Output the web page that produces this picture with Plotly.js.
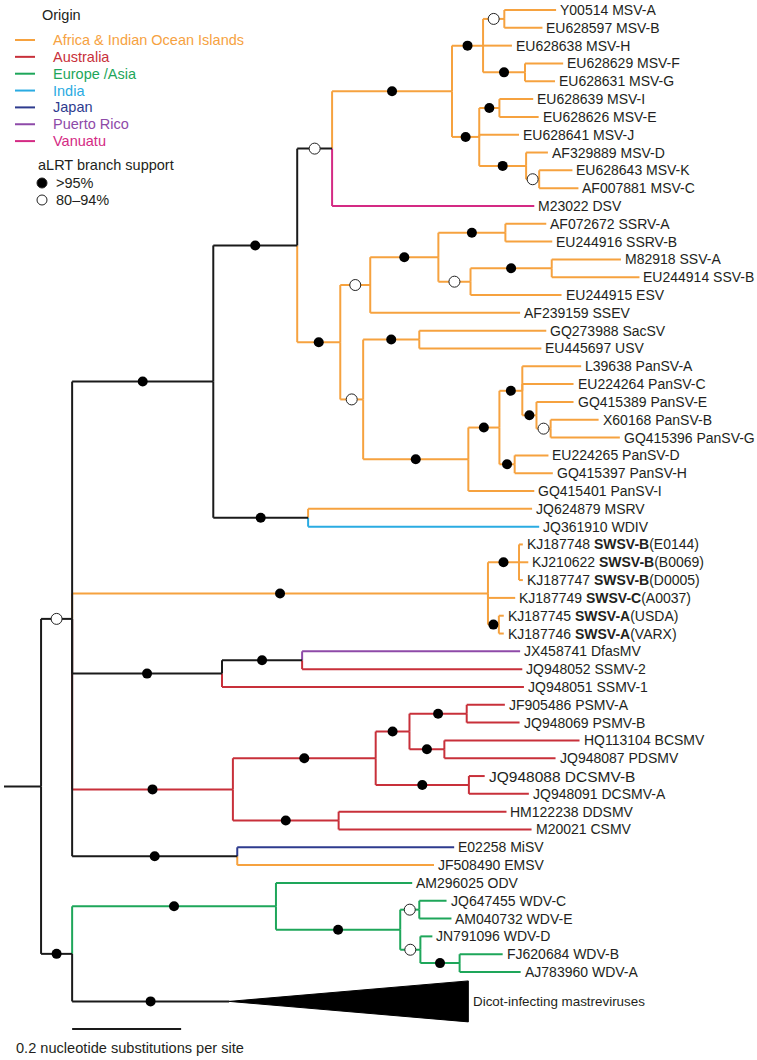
<!DOCTYPE html>
<html><head><meta charset="utf-8">
<script src="https://cdn.plot.ly/plotly-3.0.1.min.js"></script>
<style>html,body{margin:0;padding:0;background:#fff}#chart{width:757px;height:1060px}</style>
</head><body><div id="chart"></div>
<script>
// ---------------- DATA ----------------
const originCodes = ['AF','AU','EA','IN','JP','PR','VA'];
const originNames = ['Africa & Indian Ocean Islands','Australia','Europe /Asia','India','Japan','Puerto Rico','Vanuatu'];
const supportCodes = ['H','M'];
const supportNames = ['>95%','80\u201394%'];
const supportTitle = 'aLRT branch support';
const originTitle = 'Origin';

// tree nodes in pre-order (children listed top to bottom)
const nodeIds = [
  'root','n1','n2','n3','n4','n5','n6','n7','L1','L2','L3','n8','L4','L5',
  'n9','n10','L6','L7','L8','n11','L9','n12','L10','L11','L12',
  'n13','n14','n15','n16','L13','L14','n17','n18','L15','L16','L17','L18',
  'n19','n20','L19','L20','n21','n22','n23','L21','L22','n24','L23','n25','L24','L25','n26','L26','L27','L28',
  'n27','L29','L30','n28','n29','L31','L32','L33','L34','n30','L35','L36',
  'n31','n32','L37','L38','L39','n33','n34','n35','n36','L40','L41','n37','L42','L43','n38','L44','L45','n39','L46','L47',
  'n40','L48','L49','n41','n42','L50','n43','n44','L51','L52','n45','L53','n46','L54','L55','D'
];
const nodeParents = [
  null,'root','n1','n2','n3','n4','n5','n6','n7','n7','n6','n6','n8','n8',
  'n5','n9','n10','n10','n9','n9','n11','n11','n12','n12','n4',
  'n3','n13','n14','n15','n16','n16','n15','n17','n18','n18','n17','n14',
  'n13','n19','n20','n20','n19','n21','n22','n23','n23','n23','n24','n24','n25','n25','n22','n26','n26','n21',
  'n2','n27','n27','n1','n28','n29','n29','n29','n28','n28','n30','n30',
  'n1','n31','n32','n32','n31','n1','n33','n34','n35','n36','n36','n35','n37','n37','n34','n38','n38','n33','n39','n39',
  'n1','n40','n40','root','n41','n42','n42','n43','n44','n44','n43','n45','n45','n46','n46','n41'
];
// branch lengths (nucleotide substitutions per site)
const branchLengths = [
  0.068,0.057,0.259,0.154,0.064,0.220,0.057,0.039,0.095,0.070,0.053,0.077,0.070,0.055,
  0.050,0.037,0.062,0.072,0.073,0.086,0.040,0.024,0.061,0.072,0.371,
  0.079,0.055,0.125,0.123,0.075,0.086,0.059,0.149,0.127,0.161,0.167,0.275,
  0.042,0.103,0.233,0.224,0.193,0.057,0.042,0.108,0.094,0.026,0.068,0.026,0.088,0.127,0.028,0.062,0.070,0.121,
  0.174,0.411,0.424,0.763,0.057,0.007,0.017,0.007,0.050,0.020,0.009,0.009,
  0.275,0.147,0.400,0.404,0.554,0.295,0.262,0.062,0.105,0.070,0.097,0.064,0.248,0.204,0.171,0.029,0.110,0.194,0.308,0.354,
  0.303,0.398,0.361,0.057,0.374,0.250,0.228,0.035,0.050,0.059,0.037,0.022,0.072,0.079,0.112,0.288
];
// origin of each branch ('' = unassigned)
const nodeOrigins = [
  '','','','','','AF','AF','AF','AF','AF','AF','AF','AF','AF',
  'AF','AF','AF','AF','AF','AF','AF','AF','AF','AF','VA',
  'AF','AF','AF','AF','AF','AF','AF','AF','AF','AF','AF','AF',
  'AF','AF','AF','AF','AF','AF','AF','AF','AF','AF','AF','AF','AF','AF','AF','AF','AF','AF',
  '','AF','IN','AF','AF','AF','AF','AF','AF','AF','AF','AF',
  '','','PR','AU','AU','AU','AU','AU','AU','AU','AU','AU','AU','AU','AU','AU','AU','AU','AU','AU',
  '','JP','AF','','EA','EA','EA','EA','EA','EA','EA','EA','EA','EA','EA',''
];
// aLRT support of each node
const nodeSupport = [
  '','M','H','H','M','H','H','M','','','','H','','',
  'H','H','','','','H','','M','','','',
  'H','M','H','H','','','M','H','','','','',
  'M','H','','','H','H','H','','','H','','M','','','H','','','',
  'H','','','H','H','','','','','H','','',
  'H','H','','','','H','H','H','H','','','H','','','H','','','H','','',
  'H','','','H','H','','H','M','','','M','','H','','','H'
];
// tip labels, top to bottom
const leafLabels = [
  'Y00514 MSV-A','EU628597 MSV-B','EU628638 MSV-H','EU628629 MSV-F','EU628631 MSV-G',
  'EU628639 MSV-I','EU628626 MSV-E','EU628641 MSV-J','AF329889 MSV-D','EU628643 MSV-K','AF007881 MSV-C','M23022 DSV',
  'AF072672 SSRV-A','EU244916 SSRV-B','M82918 SSV-A','EU244914 SSV-B','EU244915 ESV','AF239159 SSEV',
  'GQ273988 SacSV','EU445697 USV','L39638 PanSV-A','EU224264 PanSV-C','GQ415389 PanSV-E','X60168 PanSV-B',
  'GQ415396 PanSV-G','EU224265 PanSV-D','GQ415397 PanSV-H','GQ415401 PanSV-I',
  'JQ624879 MSRV','JQ361910 WDIV',
  'KJ187748 <b>SWSV-B</b>(E0144)','KJ210622 <b>SWSV-B</b>(B0069)','KJ187747 <b>SWSV-B</b>(D0005)',
  'KJ187749 <b>SWSV-C</b>(A0037)','KJ187745 <b>SWSV-A</b>(USDA)','KJ187746 <b>SWSV-A</b>(VARX)',
  'JX458741 DfasMV','JQ948052 SSMV-2','JQ948051 SSMV-1','JF905486 PSMV-A','JQ948069 PSMV-B',
  'HQ113104 BCSMV','JQ948087 PDSMV','JQ948088 DCSMV-B','JQ948091 DCSMV-A','HM122238 DDSMV','M20021 CSMV',
  'E02258 MiSV','JF508490 EMSV','AM296025 ODV','JQ647455 WDV-C','AM040732 WDV-E','JN791096 WDV-D',
  'FJ620684 WDV-B','AJ783960 WDV-A','Dicot-infecting mastreviruses'
];
// collapsed clades (drawn as triangles)
const collapsedIds = ['D'];
const collapsedDepths = [0.439];
const collapsedRows = [2.3];
const scaleBarLength = 0.2;
const scaleBarLabel = '0.2 nucleotide substitutions per site';

// ---------------- STYLE ----------------
const originColors = {AF:'#F6A23F',AU:'#C8303A',EA:'#1EA65A',IN:'#2AABE2',JP:'#2E3B8E',PR:'#8E4AA8',VA:'#D42A84','':'#1a1a1a'};
const FONT = 'Liberation Sans, Arial, Helvetica, sans-serif';
const TXT = '#231f20';
const labelSizeOverride = {'JQ948088 DCSMV-B':15.5, 'Dicot-infecting mastreviruses':13.4};
const W = 757, H = 1060;
const PX_PER_UNIT = 545, X0PX = 4;
const ROW_PX = 17.815, Y0PX = 10;

// ---------------- LAYOUT OF TREE ----------------
const idx = {}; nodeIds.forEach((id,i)=>idx[id]=i);
const children = {}; nodeIds.forEach(id=>children[id]=[]);
nodeParents.forEach((p,i)=>{ if(p!==null) children[p].push(nodeIds[i]); });
const X = {}, Y = {}, label = {};
let cursor = -0.5, leafNo = 0;
function place(id, depth){
  const i = idx[id];
  X[id] = depth + branchLengths[i];
  const ch = children[id];
  if(ch.length===0){
    const ci = collapsedIds.indexOf(id);
    const rows = ci>=0 ? collapsedRows[ci] : 1;
    Y[id] = cursor + rows/2; cursor += rows;
    label[id] = leafLabels[leafNo++];
  } else {
    ch.forEach(c=>place(c, X[id]));
    Y[id] = (Y[ch[0]] + Y[ch[ch.length-1]])/2;
  }
}
place('root', 0);

// segments grouped by colour
const seg = {};
function add(code, xs, ys){ if(!seg[code]) seg[code]={x:[],y:[]}; seg[code].x.push(...xs, null); seg[code].y.push(...ys, null); }
add('', [0, X.root], [Y.root, Y.root]);
nodeIds.forEach((id,i)=>{
  const p = nodeParents[i]; if(p===null) return;
  const c = nodeOrigins[i];
  add(c, [X[p], X[id]], [Y[id], Y[id]]);
  add(c, [X[p], X[p]], [Y[p], Y[id]]);
});
const traces = [];
const order = originCodes.concat(['']);
order.forEach(code=>{
  if(!seg[code]) return;
  traces.push({type:'scatter', mode:'lines', x:seg[code].x, y:seg[code].y, line:{color:originColors[code], width:2}, hoverinfo:'skip', showlegend:false});
});
// collapsed triangles
collapsedIds.forEach((id,k)=>{
  const h = collapsedRows[k]/2;
  traces.push({type:'scatter', mode:'lines', x:[X[id], X[id]+collapsedDepths[k], X[id]+collapsedDepths[k], X[id]],
    y:[Y[id], Y[id]-h, Y[id]+h, Y[id]], fill:'toself', fillcolor:'#000', line:{color:'#000', width:1}, hoverinfo:'skip', showlegend:false});
});
// support markers at branch midpoints
const sx = {H:[],M:[]}, sy = {H:[],M:[]};
nodeIds.forEach((id,i)=>{
  const s = nodeSupport[i]; if(!s) return;
  const p = nodeParents[i];
  sx[s].push((X[p]+X[id])/2); sy[s].push(Y[id]);
});
traces.push({type:'scatter', mode:'markers', x:sx.H, y:sy.H, marker:{color:'#000', size:10, line:{width:0}}, hoverinfo:'skip', showlegend:false});
traces.push({type:'scatter', mode:'markers', x:sx.M, y:sy.M, marker:{color:'#fff', size:11, line:{color:'#222', width:1}}, hoverinfo:'skip', showlegend:false});

// ---------------- ANNOTATIONS / SHAPES ----------------
const ann = [], shapes = [];
nodeIds.forEach(id=>{
  if(label[id]===undefined) return;
  const ci = collapsedIds.indexOf(id);
  const xx = ci>=0 ? X[id]+collapsedDepths[ci] : X[id];
  ann.push({x:xx, y:Y[id], xref:'x', yref:'y', text:label[id], showarrow:false, xanchor:'left', yanchor:'middle', xshift:ci>=0?3:2,
    font:{family:FONT, size:labelSizeOverride[label[id]]||14, color:TXT}});
});
const px = v=>v/W, py = v=>1-v/H;
ann.push({x:px(40), y:py(15), xref:'paper', yref:'paper', text:originTitle, showarrow:false, xanchor:'left', yanchor:'middle', font:{family:FONT,size:14.5,color:TXT}});
originCodes.forEach((c,i)=>{
  const yy = 40 + 16.85*i;
  shapes.push({type:'line', xref:'paper', yref:'paper', x0:px(15), x1:px(35), y0:py(yy), y1:py(yy), line:{color:originColors[c], width:2}});
  ann.push({x:px(51), y:py(yy), xref:'paper', yref:'paper', text:originNames[i], showarrow:false, xanchor:'left', yanchor:'middle', font:{family:FONT,size:14.5,color:originColors[c]}});
});
ann.push({x:px(36), y:py(165), xref:'paper', yref:'paper', text:supportTitle, showarrow:false, xanchor:'left', yanchor:'middle', font:{family:FONT,size:14.5,color:TXT}});
supportCodes.forEach((s,i)=>{
  const yy = 183 + 17*i, cx = 42, r = 5;
  shapes.push({type:'circle', xref:'paper', yref:'paper', x0:px(cx-r), x1:px(cx+r), y0:py(yy-r), y1:py(yy+r),
    fillcolor: s==='H' ? '#000' : '#fff', line:{color:'#222', width:1}});
  ann.push({x:px(54), y:py(yy), xref:'paper', yref:'paper', text:supportNames[i], showarrow:false, xanchor:'left', yanchor:'middle', font:{family:FONT,size:14.5,color:TXT}});
});
// scale bar
shapes.push({type:'line', xref:'x', yref:'paper', x0:X.n1, x1:X.n1+scaleBarLength, y0:py(1029), y1:py(1029), line:{color:'#1a1a1a', width:2}});
ann.push({x:px(14), y:py(1048), xref:'paper', yref:'paper', text:scaleBarLabel, showarrow:false, xanchor:'left', yanchor:'middle', font:{family:FONT,size:14.6,color:TXT}});

const layout = {
  width:W, height:H, margin:{l:0,r:0,t:0,b:0}, paper_bgcolor:'#fff', plot_bgcolor:'#fff',
  xaxis:{visible:false, range:[-X0PX/PX_PER_UNIT, (W-X0PX)/PX_PER_UNIT], fixedrange:true},
  yaxis:{visible:false, range:[(H-Y0PX)/ROW_PX, -Y0PX/ROW_PX], fixedrange:true},
  annotations:ann, shapes:shapes, showlegend:false, font:{family:FONT}
};
Plotly.newPlot('chart', traces, layout, {staticPlot:true, displayModeBar:false});
</script></body></html>
